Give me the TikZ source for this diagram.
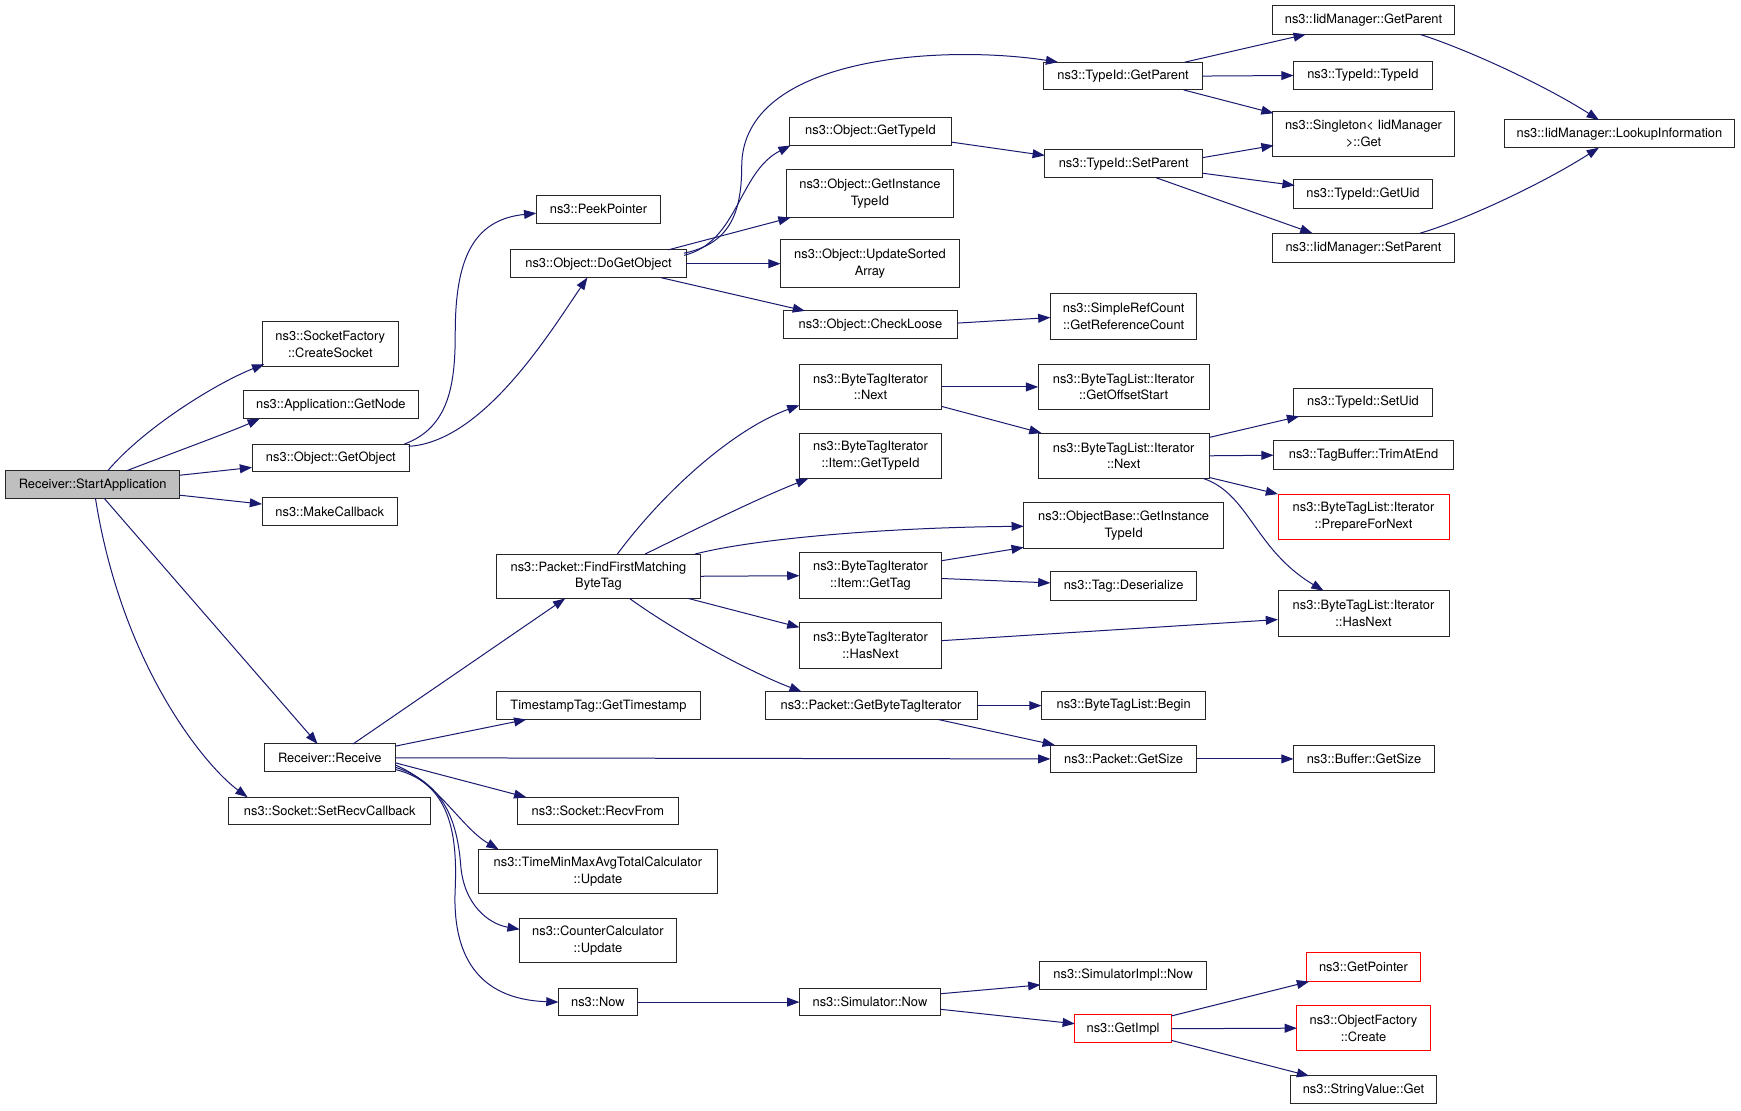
\documentclass[tikz,border=0pt]{standalone}
\usepackage{fontspec}
\setmainfont{TeX Gyre Heros}
\usetikzlibrary{arrows.meta,calc}
\definecolor{edgeblue}{HTML}{191970}
\definecolor{redbox}{HTML}{FF0000}
\definecolor{grayfill}{HTML}{BFBFBF}
\newcommand\gbox[7][]{\node[box,#1,minimum width={#5-#3},minimum height={#6-#4}] (#2) at ({(#3+#5)/2},{(#4+#6)/2}) {#7};}
\tikzset{
  box/.style={draw=black!85, line width=0.9pt, fill=white, inner sep=0pt, outer sep=0pt,
    align=center, font=\fontsize{11.6}{15}\selectfont, text=black},
  redb/.style={draw=redbox},
  e/.style={draw=edgeblue, line width=0.9pt, -{Triangle[length=11pt,width=8pt]}}
}
\begin{document}
\begin{tikzpicture}[x=1pt,y=-1pt]
\fill[white] (0,0) rectangle (1568,1000.6);
\useasboundingbox (0,0) rectangle (1568,1000.6);
% nodes
\gbox[fill=grayfill]{sa}{5}{424}{162}{449}{Receiver::StartApplication}
\gbox{cs}{236}{290}{359}{330}{ns3::SocketFactory\\::CreateSocket}
\gbox{gn}{219}{352}{377}{377}{ns3::Application::GetNode}
\gbox{go}{227}{400}{369}{425}{ns3::Object::GetObject}
\gbox{mc}{236}{448}{358}{473}{ns3::MakeCallback}
\gbox{src}{206}{718}{388}{743}{ns3::Socket::SetRecvCallback}
\gbox{rr}{238}{670}{356}{695}{Receiver::Receive}
\gbox{pp}{483}{176}{595}{201}{ns3::PeekPointer}
\gbox{dgo}{460}{225}{618}{250}{ns3::Object::DoGetObject}
\gbox{ffm}{447}{499}{631}{539}{ns3::Packet::FindFirstMatching\\ByteTag}
\gbox{ts}{447}{623}{631}{648}{TimestampTag::GetTimestamp}
\gbox{rf}{466}{718}{611}{743}{ns3::Socket::RecvFrom}
\gbox{tmm}{431}{765}{646}{805}{ns3::TimeMinMaxAvgTotalCalculator\\::Update}
\gbox{cc}{468}{827}{609}{867}{ns3::CounterCalculator\\::Update}
\gbox{now}{503}{890}{574}{915}{ns3::Now}
\gbox{gti}{711}{106}{857}{131}{ns3::Object::GetTypeId}
\gbox{git}{708}{153}{859}{196}{ns3::Object::GetInstance\\TypeId}
\gbox{usa}{703}{216}{864}{259}{ns3::Object::UpdateSorted\\Array}
\gbox{cl}{706}{280}{862}{305}{ns3::Object::CheckLoose}
\gbox{bn}{720}{328}{848}{369}{ns3::ByteTagIterator\\::Next}
\gbox{bgt}{720}{390}{848}{431}{ns3::ByteTagIterator\\::Item::GetTypeId}
\gbox{bgtag}{720}{498}{848}{539}{ns3::ByteTagIterator\\::Item::GetTag}
\gbox{bhn}{720}{561}{848}{602}{ns3::ByteTagIterator\\::HasNext}
\gbox{gbti}{689}{623}{880}{648}{ns3::Packet::GetByteTagIterator}
\gbox{sn}{720}{890}{847}{915}{ns3::Simulator::Now}
\gbox{tgp}{940}{56}{1083}{81}{ns3::TypeId::GetParent}
\gbox{tsp}{941}{135}{1083}{160}{ns3::TypeId::SetParent}
\gbox{srcnt}{946}{264}{1078}{306}{ns3::SimpleRefCount\\::GetReferenceCount}
\gbox{gos}{935}{328}{1089}{369}{ns3::ByteTagList::Iterator\\::GetOffsetStart}
\gbox{bln}{935}{390}{1089}{431}{ns3::ByteTagList::Iterator\\::Next}
\gbox{obgit}{922}{453}{1102}{494}{ns3::ObjectBase::GetInstance\\TypeId}
\gbox{td}{946}{515}{1078}{541}{ns3::Tag::Deserialize}
\gbox{blb}{938}{623}{1086}{648}{ns3::ByteTagList::Begin}
\gbox{pgs}{946}{671}{1078}{696}{ns3::Packet::GetSize}
\gbox{sin}{936}{866}{1087}{891}{ns3::SimulatorImpl::Now}
\gbox[redb]{gi}{968}{914}{1055}{939}{ns3::GetImpl}
\gbox{igp}{1146}{5}{1310}{31}{ns3::IidManager::GetParent}
\gbox{tti}{1165}{55}{1290}{81}{ns3::TypeId::TypeId}
\gbox{sg}{1146}{100}{1310}{141}{ns3::Singleton< IidManager\\>::Get}
\gbox{tgu}{1165}{162}{1290}{188}{ns3::TypeId::GetUid}
\gbox{isp}{1146}{210}{1310}{236}{ns3::IidManager::SetParent}
\gbox{li}{1355}{108}{1562}{133}{ns3::IidManager::LookupInformation}
\gbox{tsu}{1165}{350}{1290}{375}{ns3::TypeId::SetUid}
\gbox{tae}{1147}{397}{1309}{423}{ns3::TagBuffer::TrimAtEnd}
\gbox[redb]{pfn}{1151}{445}{1305}{486}{ns3::ByteTagList::Iterator\\::PrepareForNext}
\gbox{blhn}{1151}{532}{1305}{573}{ns3::ByteTagList::Iterator\\::HasNext}
\gbox{bgs}{1165}{671}{1292}{696}{ns3::Buffer::GetSize}
\gbox[redb]{gp}{1177}{858}{1279}{884}{ns3::GetPointer}
\gbox[redb]{ofc}{1168}{906}{1288}{946}{ns3::ObjectFactory\\::Create}
\gbox{svg}{1162}{969}{1294}{994}{ns3::StringValue::Get}
% edges from StartApplication
\draw[e] ($(sa.north west)+(92,0)$) .. controls (130,385) and (195,345) .. ($(cs.north west)+(2,38)$);
\draw[e] ($(sa.north west)+(109,0)$) .. controls (150,410) and (210,388) .. ($(gn.north west)+(15,25)$);
\draw[e] ($(sa.north west)+(157,4)$) -- ($(go.north west)+(0,21)$);
\draw[e] ($(sa.north west)+(157,22)$) -- ($(mc.north west)+(0,6)$);
\draw[e] ($(sa.north west)+(89,25)$) -- ($(rr.north west)+(48,0)$);
\draw[e] ($(sa.north west)+(81,25)$) .. controls (110,600) and (185,690) .. ($(src.north west)+(17,0)$);
% GetObject
\draw[e] ($(go.north west)+(137,0)$) .. controls (405,385) and (410,345) .. (410,300) .. controls (410,235) and (425,198) .. ($(pp.north west)+(0,16)$);
\draw[e] ($(go.north west)+(141,2)$) .. controls (435,398) and (495,300) .. ($(dgo.north west)+(69,25)$);
% DoGetObject
\draw[e] ($(dgo.north west)+(156,3)$) .. controls (655,220) and (668,195) .. (668,150) .. controls (668,50) and (850,40) .. ($(tgp.north west)+(13,0)$);
\draw[e] ($(dgo.north west)+(156,5)$) .. controls (665,218) and (665,155) .. ($(gti.north west)+(1,25)$);
\draw[e] ($(dgo.north west)+(142,0)$) -- ($(git.north west)+(4,43)$);
\draw[e] (dgo.east) -- (usa.west);
\draw[e] ($(dgo.north west)+(135,25)$) -- ($(cl.north west)+(19,0)$);
\draw[e] ($(gti.north west)+(146,22)$) -- ($(tsp.north west)+(0,5)$);
\draw[e] ($(cl.north west)+(156,11)$) -- ($(srcnt.north west)+(0,22)$);
% TypeId
\draw[e] ($(tgp.north west)+(127,0)$) -- ($(igp.north west)+(30,26)$);
\draw[e] (tgp.east) -- (tti.west);
\draw[e] ($(tgp.north west)+(126,25)$) -- ($(sg.north west)+(1,2)$);
\draw[e] ($(tsp.north west)+(142,7)$) -- ($(sg.north west)+(1,31)$);
\draw[e] ($(tsp.north west)+(142,21)$) -- ($(tgu.north west)+(1,5)$);
\draw[e] ($(tsp.north west)+(100,25)$) -- ($(isp.north west)+(36,0)$);
\draw[e] ($(igp.north west)+(133,26)$) .. controls (1320,44) and (1390,76) .. ($(li.north west)+(85,0)$);
\draw[e] ($(isp.north west)+(133,0)$) .. controls (1320,198) and (1390,165) .. ($(li.north west)+(85,25)$);
% Receive
\draw[e] ($(rr.north west)+(80,0)$) -- ($(ffm.north west)+(62,40)$);
\draw[e] ($(rr.north west)+(118,2)$) -- ($(ts.north west)+(27,25)$);
\draw[e] (rr.east) -- (pgs.west);
\draw[e] ($(rr.north west)+(118,17)$) -- ($(rf.north west)+(8,0)$);
\draw[e] ($(rr.north west)+(118,19)$) .. controls (395,705) and (415,745) .. ($(tmm.north west)+(18,0)$);
\draw[e] ($(rr.north west)+(118,21)$) .. controls (400,705) and (412,740) .. (415,780) .. controls (418,815) and (440,832) .. ($(cc.north west)+(0,10)$);
\draw[e] ($(rr.north west)+(118,23)$) .. controls (405,705) and (412,750) .. (410,800) .. controls (407,860) and (430,900) .. (now.west);
% Now
\draw[e] (now.east) -- (sn.west);
\draw[e] ($(sn.north west)+(127,5)$) -- ($(sin.north west)+(1,21)$);
\draw[e] ($(sn.north west)+(127,19)$) -- ($(gi.north west)+(0,8)$);
\draw[e] ($(gi.north west)+(87,1)$) -- ($(gp.north west)+(2,26)$);
\draw[e] (gi.east) -- (ofc.west);
\draw[e] ($(gi.north west)+(87,23)$) -- ($(svg.north west)+(17,0)$);
% GetByteTagIterator / GetSize
\draw[e] (gbti.east) -- (blb.west);
\draw[e] ($(gbti.north west)+(156,25)$) -- ($(pgs.north west)+(4,0)$);
\draw[e] (pgs.east) -- (bgs.west);
% FindFirstMatchingByteTag
\draw[e] ($(ffm.north west)+(109,0)$) .. controls (600,440) and (662,386) .. ($(bn.north west)+(0,37)$);
\draw[e] ($(ffm.north west)+(134,0)$) .. controls (630,475) and (680,450) .. ($(bgt.north west)+(8,41)$);
\draw[e] ($(ffm.north west)+(179,0)$) .. controls (680,485) and (800,475) .. ($(obgit.north west)+(0,21)$);
\draw[e] (ffm.east) -- (bgtag.west);
\draw[e] ($(ffm.north west)+(173,40)$) -- ($(bhn.north west)+(0,4)$);
\draw[e] ($(ffm.north west)+(120,40)$) .. controls (610,570) and (675,605) .. ($(gbti.north west)+(33,0)$);
% ByteTagIterator
\draw[e] (bn.east) -- (gos.west);
\draw[e] ($(bn.north west)+(128,38)$) -- ($(bln.north west)+(3,0)$);
\draw[e] ($(bgtag.north west)+(128,7)$) -- ($(obgit.north west)+(0,40)$);
\draw[e] ($(bgtag.north west)+(128,23)$) -- ($(td.north west)+(0,10)$);
\draw[e] ($(bhn.north west)+(128,16)$) -- ($(blhn.north west)+(0,26)$);
% ByteTagList::Iterator::Next
\draw[e] ($(bln.north west)+(154,4)$) -- ($(tsu.north west)+(5,25)$);
\draw[e] (bln.east) -- (tae.west);
\draw[e] ($(bln.north west)+(154,40)$) -- (pfn.north west);
\draw[e] ($(bln.north west)+(149,41)$) .. controls (1125,445) and (1130,495) .. ($(blhn.north west)+(41,0)$);
\end{tikzpicture}
\end{document}
